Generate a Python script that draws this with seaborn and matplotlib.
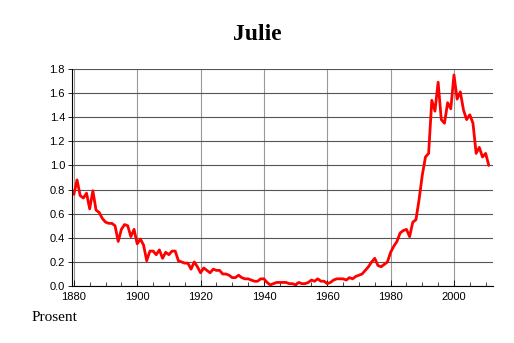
import numpy as np
import pandas as pd
import matplotlib
matplotlib.use("Agg")
import matplotlib.pyplot as plt
import seaborn as sns
from matplotlib.ticker import MultipleLocator, FormatStrFormatter

years = list(range(1880, 2013))
prosent = [
    0.76, 0.88, 0.75, 0.73, 0.77, 0.64, 0.79, 0.63, 0.61, 0.56,
    0.53, 0.52, 0.52, 0.50, 0.37, 0.47, 0.51, 0.50, 0.41, 0.47,
    0.35, 0.39, 0.34, 0.21, 0.29, 0.29, 0.26, 0.30, 0.23, 0.28,
    0.26, 0.29, 0.29, 0.21, 0.20, 0.19, 0.19, 0.14, 0.20, 0.16,
    0.11, 0.15, 0.13, 0.11, 0.14, 0.13, 0.13, 0.10, 0.10, 0.09,
    0.07, 0.07, 0.09, 0.07, 0.06, 0.06, 0.05, 0.04, 0.04, 0.06,
    0.06, 0.03, 0.01, 0.02, 0.03, 0.03, 0.03, 0.03, 0.02, 0.02,
    0.01, 0.03, 0.02, 0.02, 0.03, 0.05, 0.04, 0.06, 0.04, 0.04,
    0.02, 0.03, 0.05, 0.06, 0.06, 0.06, 0.05, 0.07, 0.06, 0.08,
    0.09, 0.10, 0.13, 0.16, 0.20, 0.23, 0.17, 0.16, 0.18, 0.20,
    0.28, 0.33, 0.37, 0.44, 0.46, 0.47, 0.41, 0.53, 0.55, 0.72,
    0.92, 1.07, 1.10, 1.54, 1.45, 1.69, 1.38, 1.35, 1.52, 1.47,
    1.75, 1.55, 1.61, 1.46, 1.38, 1.42, 1.35, 1.10, 1.15, 1.07,
    1.10, 1.00,
]
prosent = prosent[:len(years)]
years = years[:len(prosent)]
df = pd.DataFrame({"year": years, "prosent": prosent})

sns.set_theme(style="white")
plt.rcParams["font.family"] = ["Liberation Sans", "DejaVu Sans"]
plt.rcParams["text.color"] = "#000000"

fig = plt.figure(figsize=(5.14, 3.43), dpi=100)
ax = fig.add_axes([0.140, 0.166, 0.819, 0.633])

sns.lineplot(data=df, x="year", y="prosent", ax=ax, color="#ff0000", linewidth=2.0)

ax.set_xlim(1879.4, 2012.3)
ax.set_ylim(0, 1.8)
ax.xaxis.set_major_locator(MultipleLocator(20))
ax.xaxis.set_minor_locator(MultipleLocator(5))
ax.yaxis.set_major_locator(MultipleLocator(0.2))
ax.yaxis.set_major_formatter(FormatStrFormatter("%.1f"))

ax.grid(axis="y", color="#555555", linewidth=0.8)
ax.grid(axis="x", which="major", color="#999999", linewidth=0.8)
ax.set_axisbelow(True)

for s in ["top", "right"]:
    ax.spines[s].set_visible(False)
for s in ["left", "bottom"]:
    ax.spines[s].set_color("#000000")
    ax.spines[s].set_linewidth(0.8)

ax.tick_params(axis="x", which="major", direction="in", length=4, width=0.6,
               labelsize=8, pad=4, colors="#000000", bottom=True)
ax.tick_params(axis="x", which="minor", direction="in", length=3, width=0.6,
               bottom=True)
ax.tick_params(axis="y", which="major", direction="out", length=3, width=0.6,
               labelsize=8, pad=2, colors="#000000", left=True)

ax.set_xlabel("")
ax.set_ylabel("")

fig.text(0.5, 0.898, "Julie", ha="center", va="center", fontsize=17,
         fontweight="bold", color="#000000",
         family=["Liberation Serif", "DejaVu Serif"])
fig.text(0.062, 0.073, "Prosent", ha="left", va="center", fontsize=11,
         color="#000000", family=["Liberation Serif", "DejaVu Serif"])

fig.savefig("out.png", dpi=100)
